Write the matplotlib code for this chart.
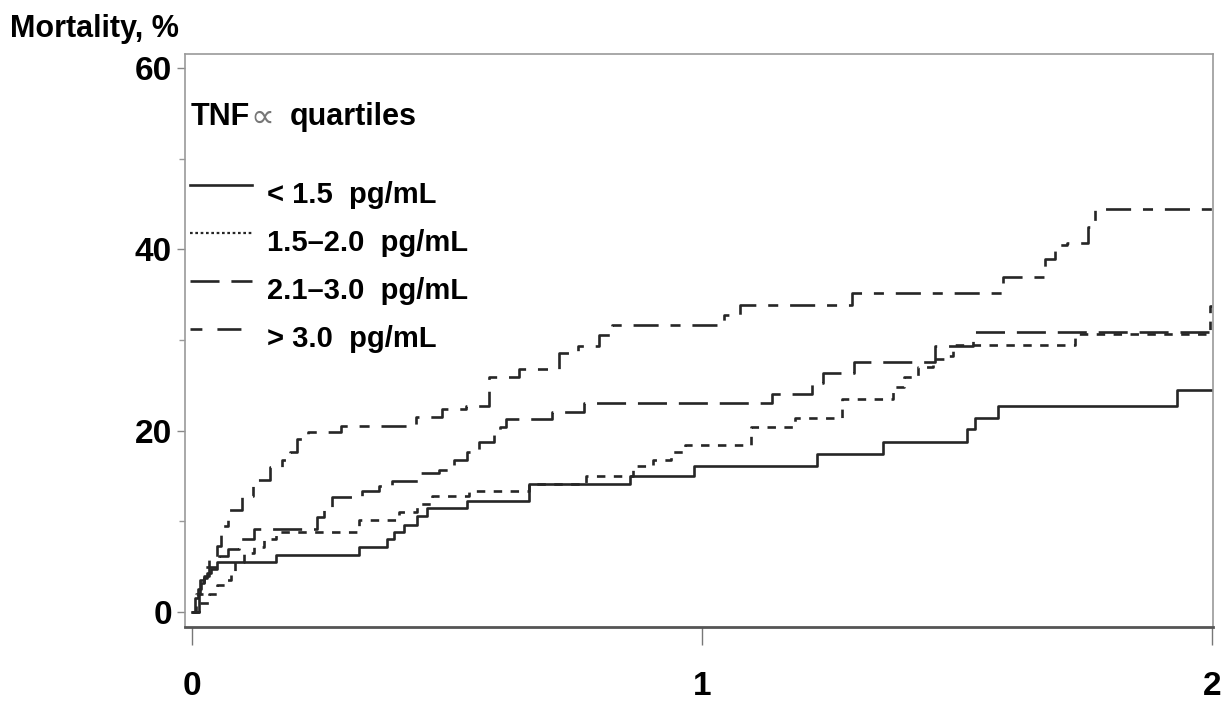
import matplotlib
matplotlib.use("Agg")
import matplotlib.pyplot as plt
from matplotlib.ticker import MultipleLocator

plt.rcParams['font.family'] = ['Liberation Sans Narrow', 'Liberation Sans', 'DejaVu Sans']
plt.rcParams['font.weight'] = 'bold'

# Kaplan-Meier style step data (years, mortality %)
t_q1 = [0, 0.006, 0.012, 0.018, 0.024, 0.029, 0.037, 0.049, 0.165, 0.328, 0.383, 0.396,
        0.416, 0.442, 0.461, 0.540, 0.661, 0.858, 0.985, 1.225, 1.354, 1.519, 1.535,
        1.580, 1.931, 2.0]
y_q1 = [0, 1.5, 2.5, 3.2, 3.8, 4.3, 4.8, 5.5, 6.3, 7.2, 8.0, 8.8,
        9.6, 10.6, 11.5, 12.3, 14.1, 15.0, 16.1, 17.4, 18.7, 20.2, 21.4,
        22.7, 24.5, 24.5]

t_q2 = [0, 0.014, 0.033, 0.049, 0.065, 0.077, 0.084, 0.102, 0.122, 0.141, 0.165, 0.328,
        0.406, 0.442, 0.471, 0.544, 0.661, 0.773, 0.864, 0.903, 0.940, 0.966, 1.097,
        1.182, 1.274, 1.374, 1.397, 1.423, 1.452, 1.480, 1.492, 1.731, 1.997, 2.0]
y_q2 = [0, 1.0, 2.0, 3.0, 3.5, 4.5, 5.5, 6.5, 7.2, 8.0, 8.8, 10.2,
        11.0, 11.9, 12.8, 13.4, 14.1, 15.0, 16.1, 16.8, 17.6, 18.4, 20.4,
        21.4, 23.5, 24.8, 25.9, 27.0, 27.9, 28.2, 29.4, 30.7, 33.7, 33.7]

t_q3 = [0, 0.014, 0.024, 0.033, 0.053, 0.071, 0.092, 0.122, 0.245, 0.259, 0.275, 0.334,
        0.367, 0.393, 0.446, 0.485, 0.514, 0.540, 0.563, 0.593, 0.603, 0.616, 0.705,
        0.769, 1.138, 1.215, 1.237, 1.299, 1.456, 1.531, 2.0]
y_q3 = [0, 2.0, 4.0, 5.0, 6.2, 7.0, 8.0, 9.2, 10.5, 11.5, 12.7, 13.3,
        13.9, 14.4, 15.3, 15.7, 16.8, 17.6, 18.7, 19.6, 20.4, 21.3, 22.1,
        23.1, 24.1, 25.3, 26.4, 27.6, 29.3, 30.9, 30.9]

t_q4 = [0, 0.008, 0.016, 0.024, 0.033, 0.049, 0.057, 0.071, 0.098, 0.120, 0.130, 0.153,
        0.177, 0.192, 0.206, 0.228, 0.292, 0.440, 0.491, 0.538, 0.583, 0.642, 0.720,
        0.756, 0.799, 0.824, 1.044, 1.074, 1.295, 1.590, 1.672, 1.692, 1.715, 1.757,
        1.770, 2.0]
y_q4 = [0, 2.0, 3.5, 5.0, 6.0, 7.3, 9.5, 11.3, 12.8, 14.3, 14.6, 16.0,
        16.8, 17.6, 19.1, 19.8, 20.5, 21.5, 22.4, 22.7, 25.9, 26.8, 28.6,
        29.3, 30.6, 31.6, 32.8, 33.9, 35.2, 36.9, 38.9, 40.5, 40.7, 42.5,
        44.5, 44.5]

labels = ['< 1.5  pg/mL', '1.5\u20132.0  pg/mL', '2.1\u20133.0  pg/mL', '> 3.0  pg/mL']
x_ticks = [0, 1, 2]
y_ticks = [0, 20, 40, 60]

line_color = '#262626'
lw = 1.9
styles = ['-', (0, (3.2, 3.2)), (0, (11, 4.5)), (0, (3.8, 4.5, 9.5, 4.5))]
legend_styles = ['-', (0, (1.2, 1.2)), (0, (11, 4.5)), (0, (4.5, 5.7, 9.1, 4.5, 0.8, 5))]

fig = plt.figure(figsize=(12.25, 7.02), dpi=100)
ax = fig.add_axes([185 / 1225, 1 - 627 / 702, 1028 / 1225, 573 / 702])

series = [(t_q1, y_q1), (t_q2, y_q2), (t_q3, y_q3), (t_q4, y_q4)]
for (t, y), ls in zip(series, styles):
    ax.step(t, y, where='post', color=line_color, lw=lw, linestyle=ls)

ax.set_xlim(-0.0137, 2.002)
ax.set_ylim(-1.65, 61.54)
ax.set_xticks(x_ticks)
ax.set_yticks(y_ticks)
ax.yaxis.set_minor_locator(MultipleLocator(10))
ax.tick_params(axis='x', direction='out', length=13, width=1, color='#777777',
               pad=19, labelsize=24)
ax.tick_params(axis='y', which='major', direction='out', length=6, width=1,
               color='#888888', pad=3.5, labelsize=24)
ax.tick_params(axis='y', which='minor', direction='out', length=4, width=1,
               color='#999999')

for side in ['top', 'right', 'left']:
    ax.spines[side].set_color('#9a9a9a')
    ax.spines[side].set_linewidth(1.2)
ax.spines['bottom'].set_color('#555555')
ax.spines['bottom'].set_linewidth(2.0)

# y-axis title above the axis
fig.text(10 / 1225, 1 - 37 / 702, 'Mortality, %', fontsize=22, fontweight='bold',
         ha='left', va='baseline')

# legend drawn inside the axes
tr = ax.transAxes
t1 = ax.text(0.005, 0.876, 'TNF', transform=tr, fontsize=22, fontweight='bold',
             va='baseline')
t2 = ax.annotate('\u221d', xy=(1, 0.5), xycoords=t1, xytext=(0.5, 0),
                 textcoords='offset points', fontsize=24, fontweight='normal',
                 color='#777777', family=['DejaVu Sans'], va='center')
ax.annotate('quartiles', xy=(1, 0), xycoords=t1, xytext=(29, 0),
            textcoords='offset points', fontsize=22, fontweight='bold', va='bottom')

row = 48 / 573
for i, (lab, ls) in enumerate(zip(labels, legend_styles)):
    base = 0.740 - i * row
    ax.plot([0.005, 0.065], [base + 18 / 573] * 2, transform=tr, color=line_color,
            lw=1.6 if i == 1 else lw, linestyle=ls, clip_on=False)
    ax.text(0.080, base, lab, transform=tr, fontsize=21, fontweight='bold',
            va='baseline')

fig.savefig('out.png', dpi=100)
